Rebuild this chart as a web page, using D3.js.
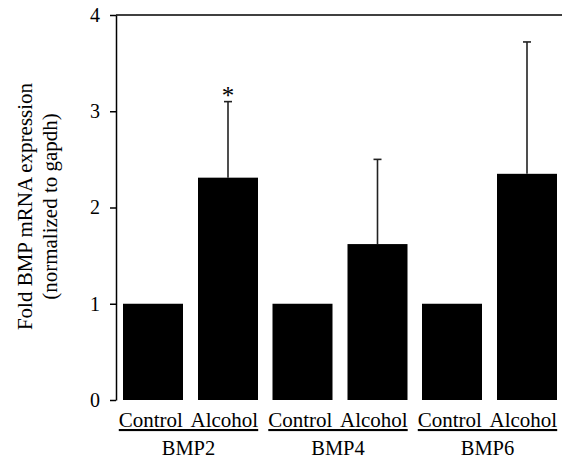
<!DOCTYPE html>
<html>
<head>
<meta charset="utf-8">
<script src="https://cdn.jsdelivr.net/npm/d3@7"></script>
<style>
  body { margin: 0; background: #fff; }
  text { font-family: "Liberation Serif", "DejaVu Serif", serif; fill: #000; }
</style>
</head>
<body>
<svg id="chart" width="562" height="461"></svg>
<script>
// Fold BMP mRNA expression, alcohol vs control
const genes = ["BMP2", "BMP4", "BMP6"];
const conditions = ["Control", "Alcohol"];
const controlValues = [1.0, 1.0, 1.0];
const alcoholValues = [2.31, 1.62, 2.35];
const alcoholErrorTop = [3.10, 2.50, 3.72];
const significant = [true, false, false];
const yTicks = [0, 1, 2, 3, 4];

const rows = [];
genes.forEach((g, i) => {
  rows.push({ gene: g, cond: "Control", value: controlValues[i], err: null, sig: false });
  rows.push({ gene: g, cond: "Alcohol", value: alcoholValues[i], err: alcoholErrorTop[i], sig: significant[i] });
});

const svg = d3.select("#chart");
const plotLeft = 116, plotRight = 564.5, plotTop = 15, plotBottom = 400;

const x0 = d3.scaleBand().domain(genes).range([plotLeft, plotRight]).padding(0);
const x1 = d3.scaleBand().domain(conditions).range([7, 142]).paddingInner(0.2).paddingOuter(0);
const y = d3.scaleLinear().domain([0, 4]).range([plotBottom, plotTop]);

// bars
svg.append("g").selectAll("rect").data(rows).join("rect")
  .attr("x", d => x0(d.gene) + x1(d.cond))
  .attr("y", d => y(d.value))
  .attr("width", x1.bandwidth())
  .attr("height", d => y(0) - y(d.value))
  .attr("fill", "#000");

// upper error bars
const errs = rows.filter(d => d.err !== null);
const cx = d => x0(d.gene) + x1(d.cond) + x1.bandwidth() / 2;
const eg = svg.append("g").attr("stroke", "#222").attr("stroke-width", 1.6);
eg.selectAll("line.v").data(errs).join("line").attr("class", "v")
  .attr("x1", cx).attr("x2", cx)
  .attr("y1", d => y(d.value)).attr("y2", d => y(d.err));
eg.selectAll("line.c").data(errs).join("line").attr("class", "c")
  .attr("x1", d => cx(d) - 4).attr("x2", d => cx(d) + 4)
  .attr("y1", d => y(d.err)).attr("y2", d => y(d.err));

// significance marker
svg.append("g").selectAll("text").data(errs.filter(d => d.sig)).join("text")
  .attr("x", cx).attr("y", d => y(d.err) + 2)
  .attr("text-anchor", "middle").style("font-size", "25px")
  .text("*");

// y axis
const yAxis = svg.append("g").attr("transform", `translate(${plotLeft},0)`)
  .call(d3.axisLeft(y).tickValues(yTicks).tickFormat(d3.format("d")).tickSize(6).tickSizeOuter(0));
yAxis.selectAll("path, line").attr("stroke", "#000").attr("stroke-width", 1.5);
yAxis.selectAll("text").attr("x", -16)
  .style("font-size", "20px")
  .style("font-family", '"Liberation Serif", serif');

// top frame line
svg.append("line")
  .attr("x1", plotLeft).attr("x2", 562).attr("y1", y(4)).attr("y2", y(4))
  .attr("stroke", "#000").attr("stroke-width", 1.5);

// condition labels and gene labels
const gl = svg.append("g");
genes.forEach(g => {
  const c = x0(g) + (x1.range()[0] + x1.range()[1]) / 2 - 2;
  gl.append("text").attr("x", c).attr("y", 427).attr("text-anchor", "middle")
    .style("font-size", "21px").style("text-decoration", "underline")
    .style("white-space", "pre").style("word-spacing", "3.5px")
    .text(conditions.join(" "));
  gl.append("text").attr("x", c).attr("y", 455).attr("text-anchor", "middle")
    .style("font-size", "20.5px").text(g);
});

// y axis title
const yt = svg.append("text")
  .attr("transform", `translate(0,206.5) rotate(-90)`)
  .attr("text-anchor", "middle").style("font-size", "21px");
yt.append("tspan").attr("x", 0).attr("y", 32).text("Fold BMP mRNA expression");
yt.append("tspan").attr("x", 0).attr("y", 57).text("(normalized to gapdh)");
</script>
</body>
</html>
